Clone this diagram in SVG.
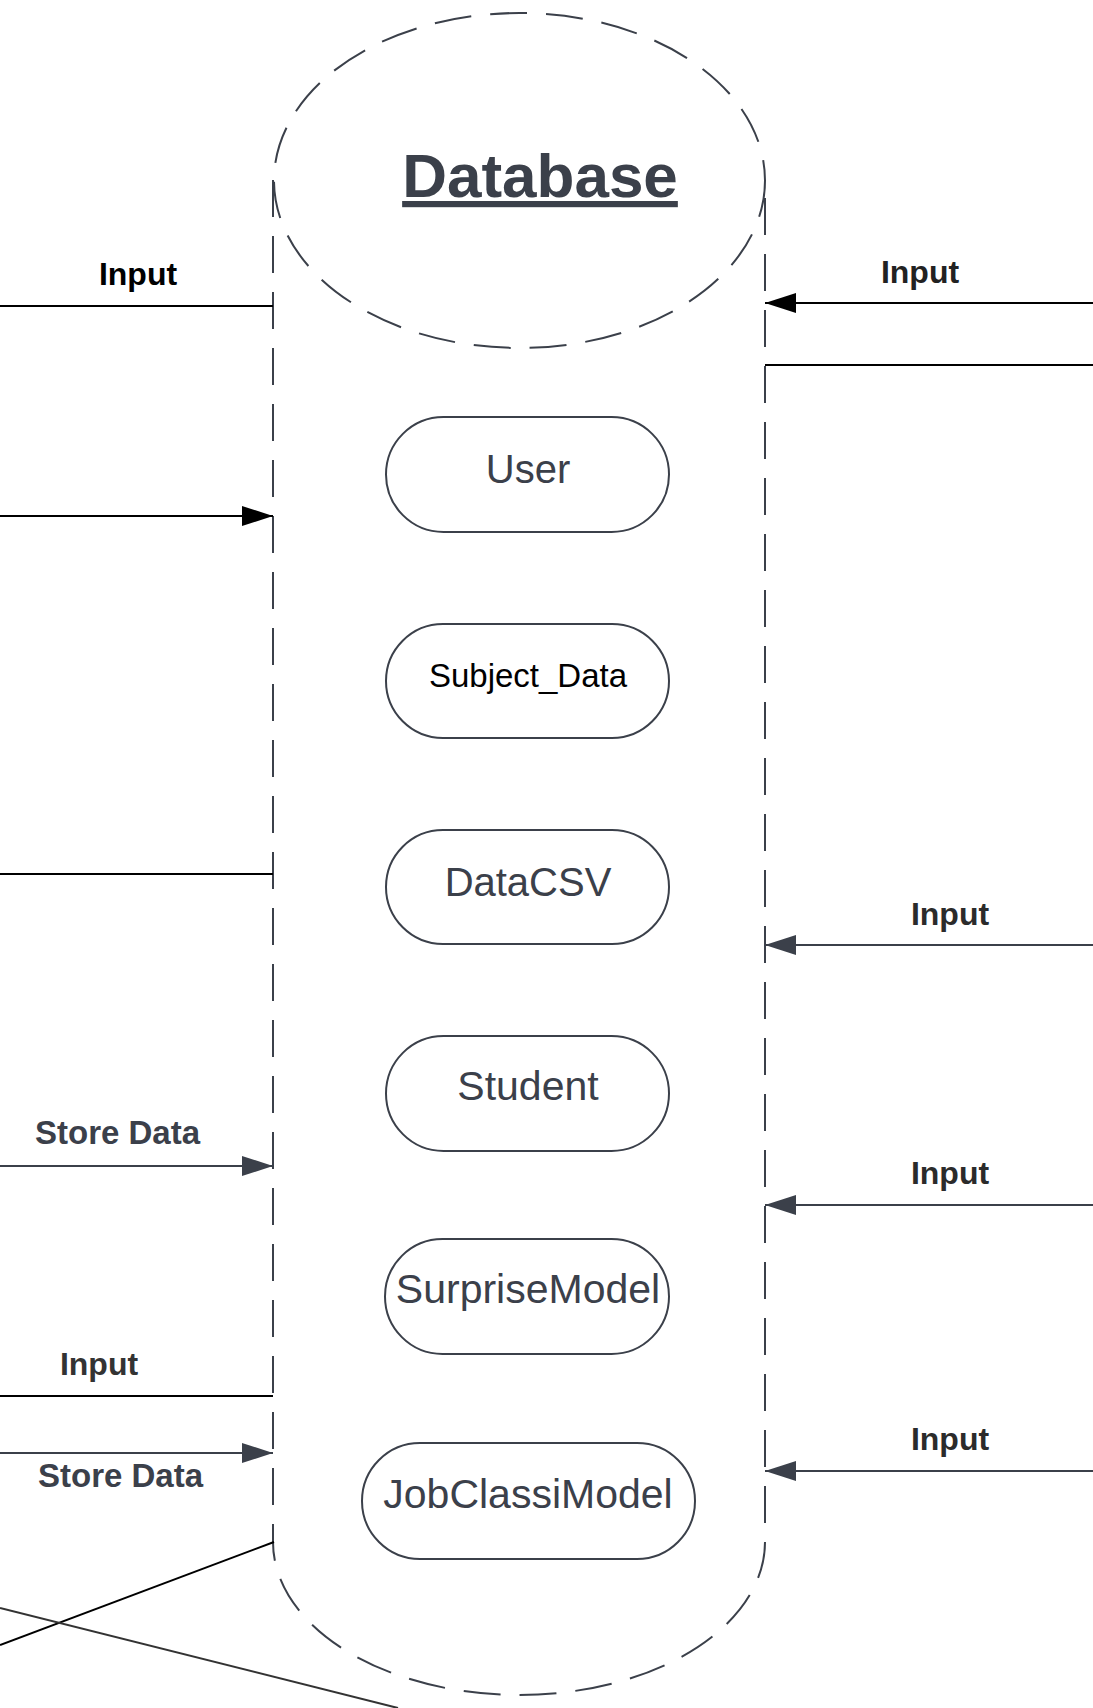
<svg xmlns="http://www.w3.org/2000/svg" width="1093" height="1708" viewBox="0 0 1093 1708">
<style>
.cyl{fill:none;stroke:#3b404a;stroke-width:2;stroke-dasharray:37 19}
.node rect{fill:#fff;stroke:#3b404a;stroke-width:2}
.nt{font-family:"Liberation Sans",Arial,sans-serif;fill:#3b404a;text-anchor:middle}
.lbl{font-family:"Liberation Sans",Arial,sans-serif;font-weight:bold;font-size:32px;text-anchor:middle}
.blk{stroke:#000;stroke-width:2;fill:none}
.gry{stroke:#3b404a;stroke-width:2;fill:none}
</style>
<defs>
<marker id="ab" markerUnits="userSpaceOnUse" markerWidth="31" markerHeight="20" refX="31" refY="10" orient="auto"><path d="M0,0 L31,10 L0,20 z" fill="#000"/></marker>
<marker id="ag" markerUnits="userSpaceOnUse" markerWidth="31" markerHeight="20" refX="31" refY="10" orient="auto"><path d="M0,0 L31,10 L0,20 z" fill="#3b404a"/></marker>
</defs>
<rect width="1093" height="1708" fill="#fff"/>
<g id="database">
<path class="cyl" d="M273,180 L273,1542 A246,153 0 0 0 765,1542 L765,180"/>
<ellipse class="cyl" cx="519.5" cy="180.5" rx="245.5" ry="167.5"/>
<text x="540" y="197" font-family="Liberation Sans, Arial, sans-serif" font-weight="bold" font-size="62" fill="#3b404a" text-anchor="middle" text-decoration="underline">Database</text>
</g>
<g id="node-user" class="node"><rect x="386" y="417" width="283" height="115" rx="57.5"/><text class="nt" x="528" y="483" font-size="40">User</text></g>
<g id="node-subject" class="node"><rect x="386" y="624" width="283" height="114" rx="57"/><text class="nt" x="528" y="687" font-size="33" style="fill:#000">Subject_Data</text></g>
<g id="node-datacsv" class="node"><rect x="386" y="830" width="283" height="114" rx="57"/><text class="nt" x="528" y="896" font-size="40">DataCSV</text></g>
<g id="node-student" class="node"><rect x="386" y="1036" width="283" height="115" rx="57.5"/><text class="nt" x="528" y="1100" font-size="41">Student</text></g>
<g id="node-surprise" class="node"><rect x="385" y="1239" width="284" height="115" rx="57.5"/><text class="nt" x="528" y="1303" font-size="41">SurpriseModel</text></g>
<g id="node-jobclassi" class="node"><rect x="362" y="1443" width="333" height="116" rx="58"/><text class="nt" x="528" y="1508" font-size="41">JobClassiModel</text></g>
<g id="connectors">
<line class="blk" x1="0" y1="306" x2="273" y2="306"/>
<line class="blk" x1="0" y1="516" x2="273" y2="516" marker-end="url(#ab)"/>
<line class="blk" x1="0" y1="874" x2="273" y2="874"/>
<line class="gry" x1="0" y1="1166" x2="273" y2="1166" marker-end="url(#ag)"/>
<line class="blk" x1="0" y1="1396" x2="273" y2="1396"/>
<line class="gry" x1="0" y1="1453" x2="273" y2="1453" marker-end="url(#ag)"/>
<line class="blk" x1="274" y1="1542" x2="0" y2="1645"/>
<line x1="0" y1="1608" x2="398" y2="1708" stroke="#333" stroke-width="2"/>
<line class="blk" x1="1093" y1="303" x2="765" y2="303" marker-end="url(#ab)"/>
<line class="blk" x1="765" y1="365" x2="1093" y2="365"/>
<line class="gry" x1="1093" y1="945" x2="765" y2="945" marker-end="url(#ag)"/>
<line class="gry" x1="1093" y1="1205" x2="765" y2="1205" marker-end="url(#ag)"/>
<line class="gry" x1="1093" y1="1471" x2="765" y2="1471" marker-end="url(#ag)"/>
<text class="lbl" x="138" y="285" fill="#000">Input</text>
<text class="lbl" x="117.5" y="1144" font-size="33" style="font-size:33px" fill="#3b404a">Store Data</text>
<text class="lbl" x="99" y="1375" fill="#333">Input</text>
<text class="lbl" x="120.5" y="1487" style="font-size:33px" fill="#3b404a">Store Data</text>
<text class="lbl" x="920" y="283" fill="#222">Input</text>
<text class="lbl" x="950" y="925" fill="#2b2b2b">Input</text>
<text class="lbl" x="950" y="1184" fill="#2b2b2b">Input</text>
<text class="lbl" x="950" y="1450" fill="#2b2b2b">Input</text>
</g>
</svg>
